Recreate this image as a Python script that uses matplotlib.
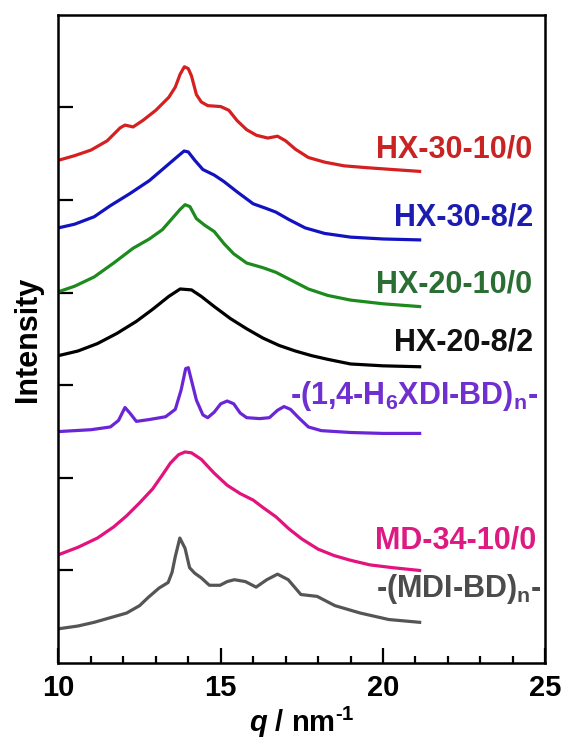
import numpy as np
import matplotlib
matplotlib.use("Agg")
import matplotlib.pyplot as plt

plt.rcParams['font.family'] = 'Liberation Sans'
plt.rcParams['font.weight'] = 'bold'
plt.rcParams['mathtext.fontset'] = 'custom'
plt.rcParams['mathtext.rm'] = 'Liberation Sans:bold'
plt.rcParams['mathtext.it'] = 'Liberation Sans:bold:italic'
plt.rcParams['mathtext.bf'] = 'Liberation Sans:bold'
plt.rcParams['mathtext.default'] = 'rm'

# WAXS profiles, offset vertically (q in nm^-1)
q_hx3010 = [10.0, 10.5, 11.0, 11.5, 11.9, 12.05, 12.3, 12.6, 13.0, 13.4, 13.6, 13.75, 13.88, 14.0,
            14.1, 14.25, 14.4, 14.6, 15.0, 15.25, 15.5, 15.8, 16.1, 16.45, 16.75, 17.0, 17.3, 17.7,
            18.2, 18.8, 19.5, 20.3, 21.13]
i_hx3010 = [5.43, 5.48, 5.54, 5.64, 5.78, 5.81, 5.79, 5.86, 5.97, 6.11, 6.22, 6.36, 6.44, 6.42,
            6.34, 6.14, 6.06, 6.02, 6.01, 5.97, 5.86, 5.76, 5.70, 5.67, 5.69, 5.64, 5.55, 5.46,
            5.41, 5.37, 5.35, 5.33, 5.31]

q_hx3082 = [10.0, 10.5, 11.1, 11.6, 12.2, 12.8, 13.3, 13.6, 13.87, 14.0, 14.2, 14.45, 14.8, 15.1,
            15.5, 16.0, 16.4, 16.7, 17.1, 17.6, 18.2, 19.0, 20.0, 21.13]
i_hx3082 = [4.70, 4.74, 4.82, 4.94, 5.07, 5.21, 5.36, 5.45, 5.53, 5.52, 5.43, 5.33, 5.27, 5.20,
            5.09, 4.96, 4.91, 4.87, 4.79, 4.70, 4.64, 4.60, 4.58, 4.57]

q_hx2010 = [10.0, 10.5, 11.1, 11.7, 12.3, 12.8, 13.2, 13.55, 13.75, 13.9, 14.05, 14.25, 14.5, 14.8,
            15.1, 15.4, 15.8, 16.3, 16.7, 17.2, 17.7, 18.3, 19.0, 20.0, 21.13]
i_hx2010 = [4.01, 4.07, 4.17, 4.32, 4.48, 4.58, 4.68, 4.82, 4.90, 4.95, 4.93, 4.80, 4.73, 4.66,
            4.53, 4.42, 4.32, 4.27, 4.22, 4.13, 4.04, 3.97, 3.92, 3.88, 3.85]

q_hx2082 = [10.0, 10.6, 11.2, 11.8, 12.4, 12.9, 13.4, 13.75, 14.1, 14.4, 14.8, 15.3, 15.8, 16.3,
            16.8, 17.3, 17.8, 18.3, 19.0, 20.0, 21.13]
i_hx2082 = [3.32, 3.37, 3.45, 3.56, 3.69, 3.82, 3.96, 4.04, 4.03, 3.96, 3.85, 3.72, 3.61, 3.51,
            3.43, 3.37, 3.32, 3.28, 3.23, 3.21, 3.20]

q_h6xdi = [10.0, 11.0, 11.6, 11.85, 12.05, 12.2, 12.4, 12.8, 13.3, 13.6, 13.78, 13.92, 14.0, 14.1,
           14.25, 14.45, 14.6, 14.8, 15.0, 15.2, 15.4, 15.6, 15.8, 16.2, 16.5, 16.75, 16.95, 17.15,
           17.4, 17.7, 18.1, 19.0, 20.0, 21.13]
i_h6xdi = [2.50, 2.52, 2.55, 2.62, 2.76, 2.70, 2.61, 2.63, 2.66, 2.74, 2.95, 3.18, 3.19, 3.05,
           2.84, 2.68, 2.65, 2.71, 2.80, 2.83, 2.80, 2.70, 2.65, 2.64, 2.65, 2.73, 2.77, 2.74,
           2.65, 2.55, 2.51, 2.49, 2.48, 2.48]

q_md3410 = [10.0, 10.6, 11.2, 11.7, 12.1, 12.5, 12.9, 13.2, 13.45, 13.7, 13.9, 14.1, 14.4, 14.8,
            15.2, 15.6, 16.0, 16.3, 16.7, 17.1, 17.5, 18.0, 18.5, 19.0, 19.6, 20.3, 21.13]
i_md3410 = [1.17, 1.25, 1.35, 1.47, 1.59, 1.73, 1.88, 2.03, 2.16, 2.25, 2.28, 2.27, 2.20, 2.05,
            1.92, 1.83, 1.76, 1.68, 1.58, 1.45, 1.34, 1.23, 1.16, 1.11, 1.06, 1.03, 1.00]

q_mdibd = [10.0, 10.6, 11.1, 11.6, 12.1, 12.5, 12.77, 13.1, 13.38, 13.5, 13.6, 13.74, 13.9, 14.04,
           14.2, 14.4, 14.65, 14.98, 15.2, 15.42, 15.76, 16.09, 16.42, 16.75, 17.08, 17.47, 17.97,
           18.52, 19.3, 20.18, 21.13]
i_mdibd = [0.37, 0.40, 0.44, 0.49, 0.54, 0.62, 0.71, 0.81, 0.87, 0.98, 1.15, 1.35, 1.24, 1.03,
           0.97, 0.92, 0.84, 0.84, 0.88, 0.90, 0.88, 0.82, 0.90, 0.96, 0.90, 0.74, 0.72,
           0.62, 0.54, 0.47, 0.44]

names = ['HX-30-10/0', 'HX-30-8/2', 'HX-20-10/0', 'HX-20-8/2',
         r'-(1,4-H$_6$XDI-BD)$_n$-', 'MD-34-10/0', r'-(MDI-BD)$_n$-']
label_x = [24.6, 24.62, 24.6, 24.62, 24.78, 24.72, 24.9]
label_y = [5.455, 4.73, 4.00, 3.38, 2.80, 1.24, 0.71]
line_colors = ['#d42020', '#1212c0', '#1c8a1c', '#000000', '#6a26d6', '#e2137c', '#555555']
text_colors = ['#c82424', '#1c1cb0', '#2a6e34', '#111111', '#7030d0', '#dc1a82', '#4c4c4c']

curves = [(q_hx3010, i_hx3010), (q_hx3082, i_hx3082), (q_hx2010, i_hx2010),
          (q_hx2082, i_hx2082), (q_h6xdi, i_h6xdi), (q_md3410, i_md3410), (q_mdibd, i_mdibd)]

fig = plt.figure(figsize=(5.65, 7.45), dpi=100)
ax = fig.add_axes([0.1035, 0.110, 0.8615, 0.870])

for (q, inten), c in zip(curves, line_colors):
    ax.plot(q, inten, color=c, lw=2.3, solid_joinstyle='round')

for name, x, y, c in zip(names, label_x, label_y, text_colors):
    ax.text(x, y, name, color=c, fontsize=22, fontweight='bold', ha='right', va='baseline')

ax.set_xlim(10, 25)
ax.set_ylim(0, 7)
ax.set_xticks([10, 15, 20, 25])
ax.set_xticks(np.arange(11, 25, 1), minor=True)
ax.set_yticks([1, 2, 3, 4, 5, 6])
ax.set_yticklabels([])
ax.tick_params(axis='both', direction='in', width=1.6, length=11)
ax.tick_params(axis='x', which='minor', direction='in', width=1.6, length=5)
ax.tick_params(axis='x', labelsize=21, pad=8)
for s in ax.spines.values():
    s.set_linewidth(1.8)

ax.set_xlabel(r'$\mathit{q}$ / nm$^{\text{-1}}$', fontsize=21, fontweight='bold', labelpad=2)
ax.set_ylabel('Intensity', fontsize=22, fontweight='bold', labelpad=8)

fig.savefig('out.png', dpi=100)
